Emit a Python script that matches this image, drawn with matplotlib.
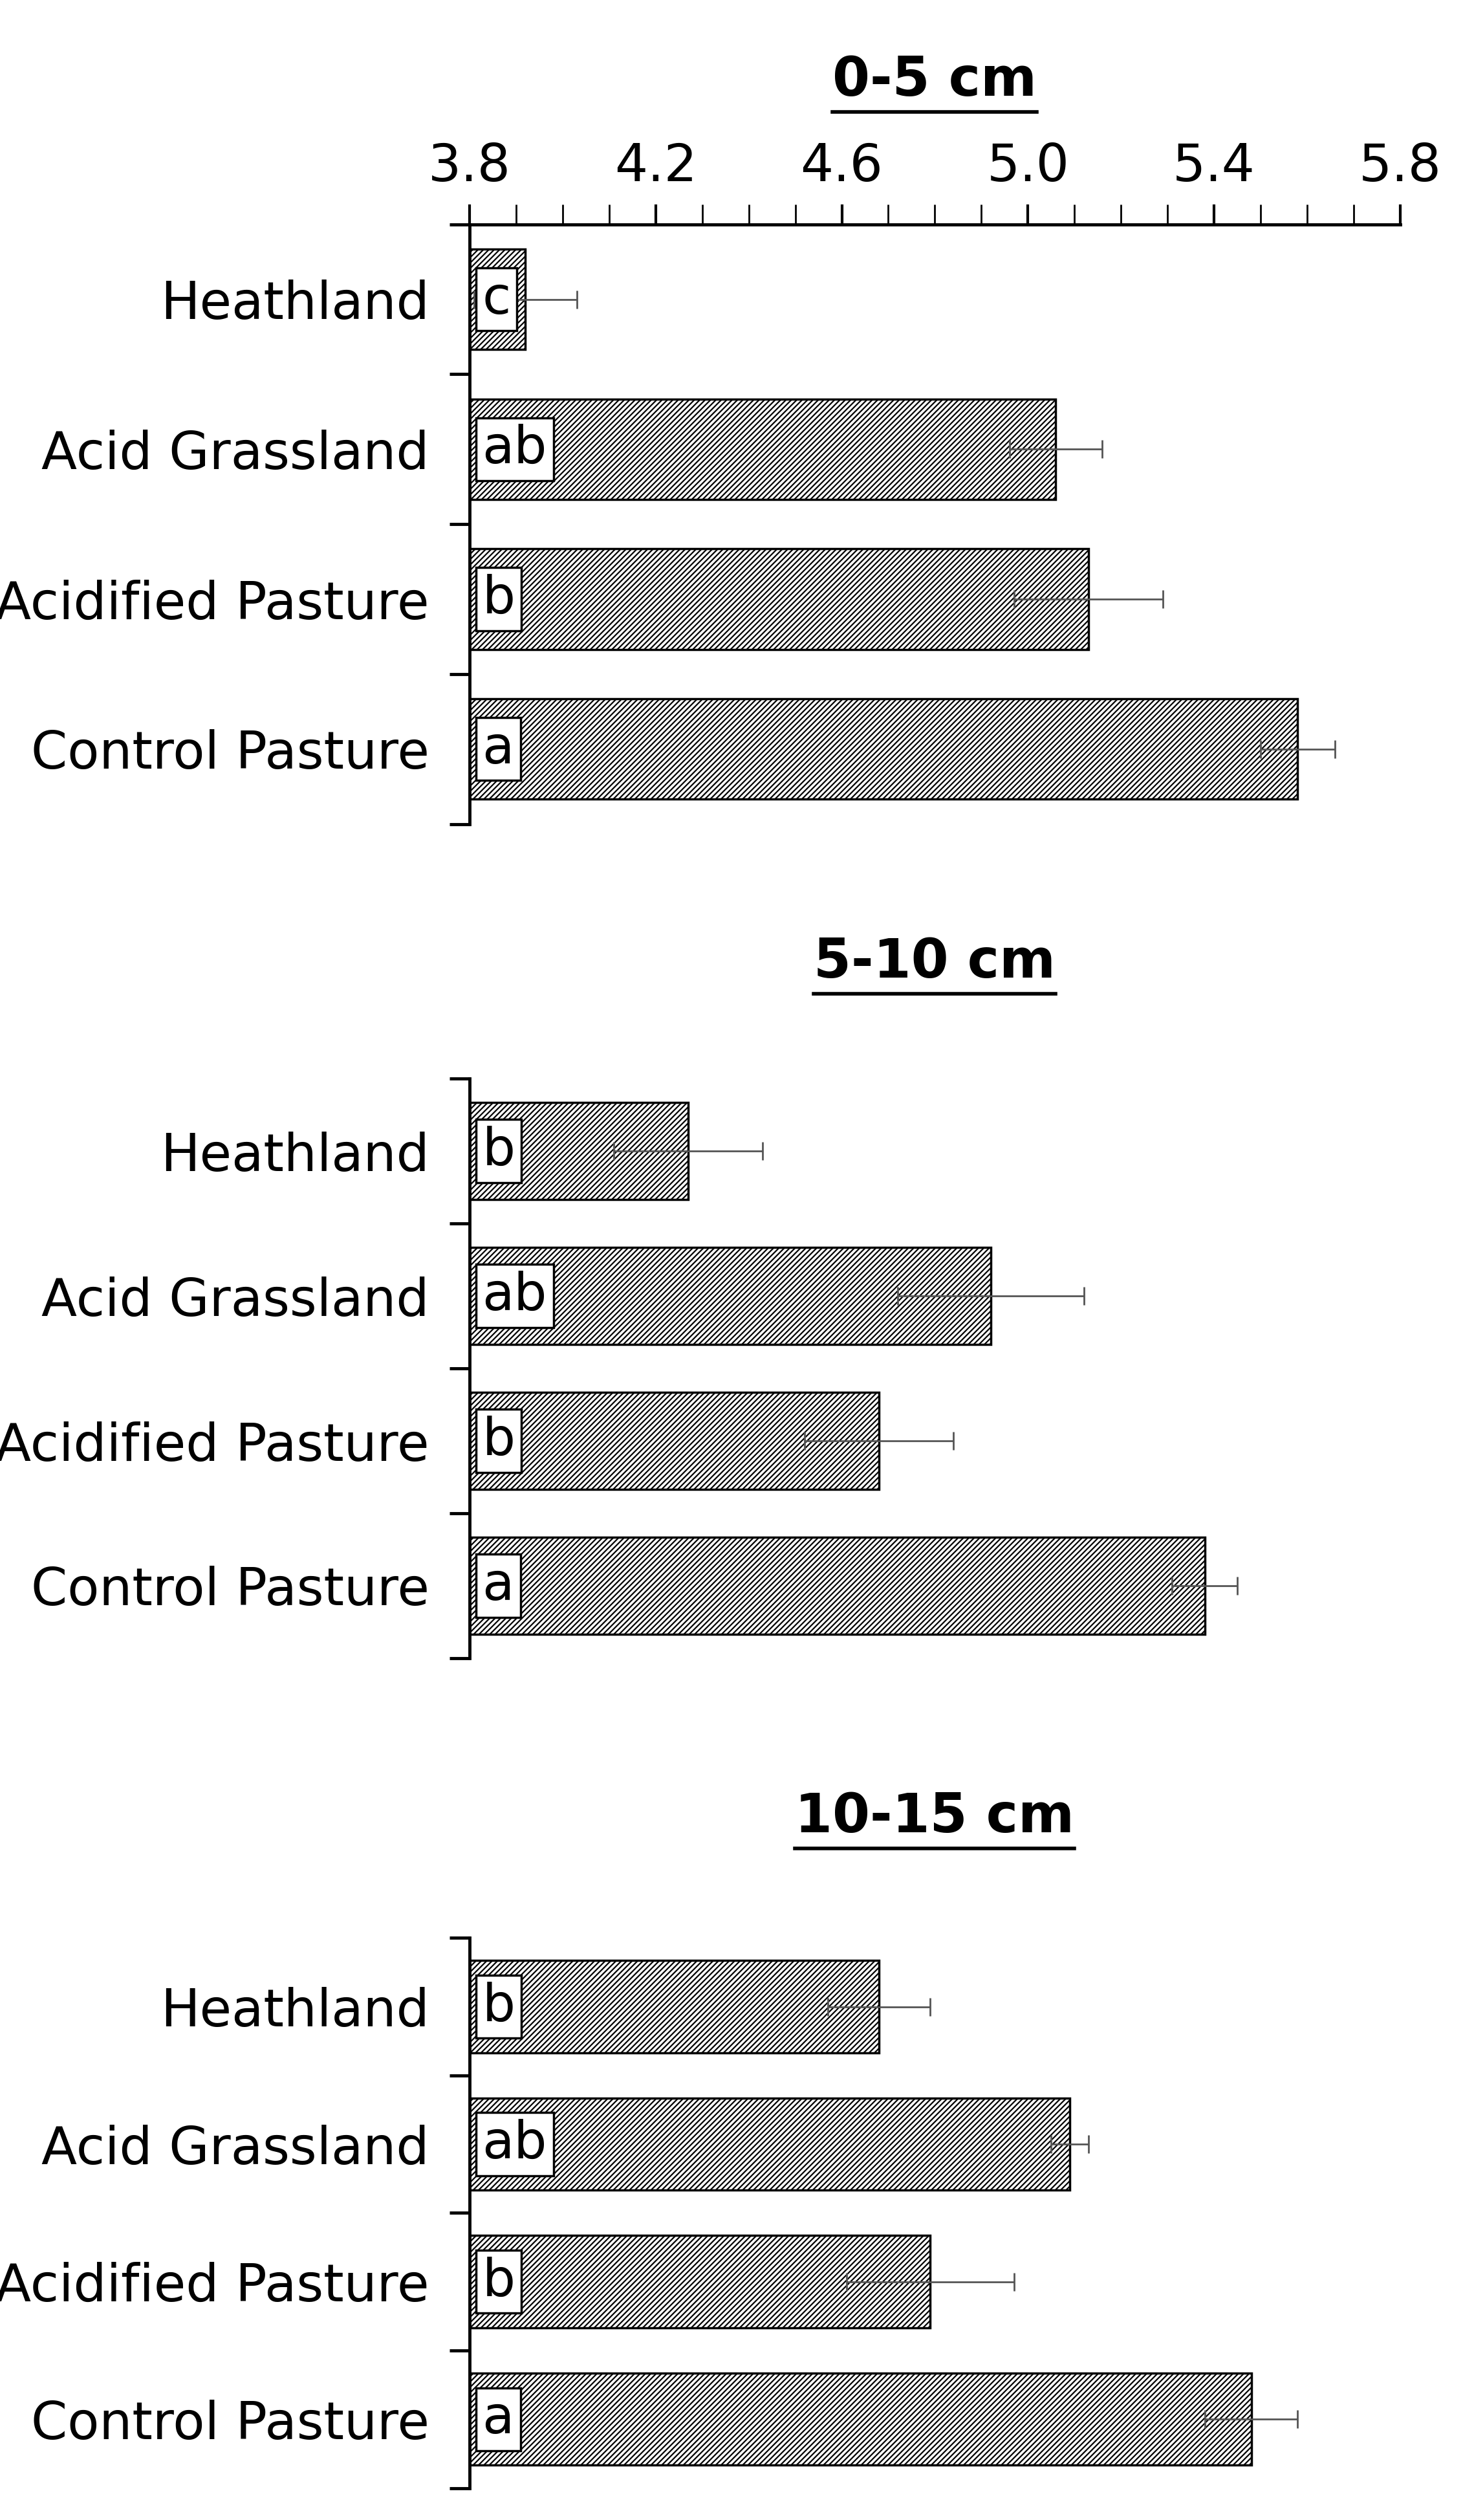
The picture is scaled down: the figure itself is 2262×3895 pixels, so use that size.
import matplotlib
matplotlib.use("Agg")
import matplotlib.pyplot as plt
from matplotlib.ticker import MultipleLocator
from matplotlib.lines import Line2D

plt.rcParams['font.family'] = ['Liberation Sans Narrow', 'DejaVu Sans']
plt.rcParams['hatch.linewidth'] = 1.6

categories = ['Heathland', 'Acid Grassland', 'Acidified Pasture', 'Control Pasture']
depths = ['0-5 cm', '5-10 cm', '10-15 cm']
means = [
    [3.92, 5.06, 5.13, 5.58],
    [4.27, 4.92, 4.68, 5.38],
    [4.68, 5.09, 4.79, 5.48],
]
errors = [
    [0.11, 0.10, 0.16, 0.08],
    [0.16, 0.20, 0.16, 0.07],
    [0.11, 0.04, 0.18, 0.10],
]
letters = [
    ['c', 'ab', 'b', 'a'],
    ['b', 'ab', 'b', 'a'],
    ['b', 'ab', 'b', 'a'],
]

W, H = 2262, 3895
fig = plt.figure(figsize=(W / 100, H / 100), dpi=100)

# panel extents in fraction of figure (left, bottom, width, height)
left, right = 0.321, 0.957
panels = [(0.673, 0.911), (0.342, 0.572), (0.0127, 0.231)]
title_y = [0.968, 0.618, 0.279]

for i, (b, t) in enumerate(panels):
    ax = fig.add_axes([left, b, right - left, t - b])
    y = list(range(len(categories)))
    ax.barh(y, [m - 3.8 for m in means[i]], left=3.8, height=0.67,
            color='white', edgecolor='black', hatch='////', linewidth=2.5)
    ax.errorbar([m for m in means[i]], y, xerr=errors[i], fmt='none',
                ecolor='#555555', elinewidth=2, capsize=10, capthick=2)
    for yy, lab in zip(y, letters[i]):
        ax.annotate(lab, (3.8, yy), xytext=(14, 0), textcoords='offset points',
                    ha='left', va='center', fontsize=58,
                    bbox=dict(boxstyle='square,pad=0.12', fc='white', ec='black', lw=2.5))
    ax.set_xlim(3.8, 5.8)
    ax.set_ylim(3.5, -0.5)
    ax.set_yticks([-0.5, 0.5, 1.5, 2.5, 3.5])
    ax.set_yticklabels([])
    ax.set_yticks(y, minor=True)
    ax.set_yticklabels(categories, minor=True, fontsize=58)
    ax.tick_params(axis='y', which='major', direction='out', length=22, width=3.5)
    ax.tick_params(axis='y', which='minor', length=0, pad=45)
    for s in ['right', 'bottom']:
        ax.spines[s].set_visible(False)
    ax.spines['left'].set_linewidth(3.5)
    if i == 0:
        ax.xaxis.tick_top()
        ax.xaxis.set_major_locator(MultipleLocator(0.4))
        ax.xaxis.set_minor_locator(MultipleLocator(0.1))
        ax.set_xticks([3.8, 4.2, 4.6, 5.0, 5.4, 5.8])
        ax.set_xticklabels(['3.8', '4.2', '4.6', '5.0', '5.4', '5.8'], fontsize=58)
        ax.tick_params(axis='x', which='major', direction='out', length=22, width=3, pad=14)
        ax.tick_params(axis='x', which='minor', direction='out', length=22, width=2)
        ax.spines['top'].set_linewidth(3.5)
    else:
        ax.spines['top'].set_visible(False)
        ax.set_xticks([])

    txt = fig.text(0.639, title_y[i], depths[i], ha='center', va='center',
                   fontsize=60, fontweight='bold')
    fig.canvas.draw()
    bb = txt.get_window_extent().transformed(fig.transFigure.inverted())
    uy = bb.y0 - 0.002
    fig.add_artist(Line2D([bb.x0, bb.x1], [uy, uy], transform=fig.transFigure,
                          color='black', lw=4))

fig.savefig('out.png', dpi=100)
